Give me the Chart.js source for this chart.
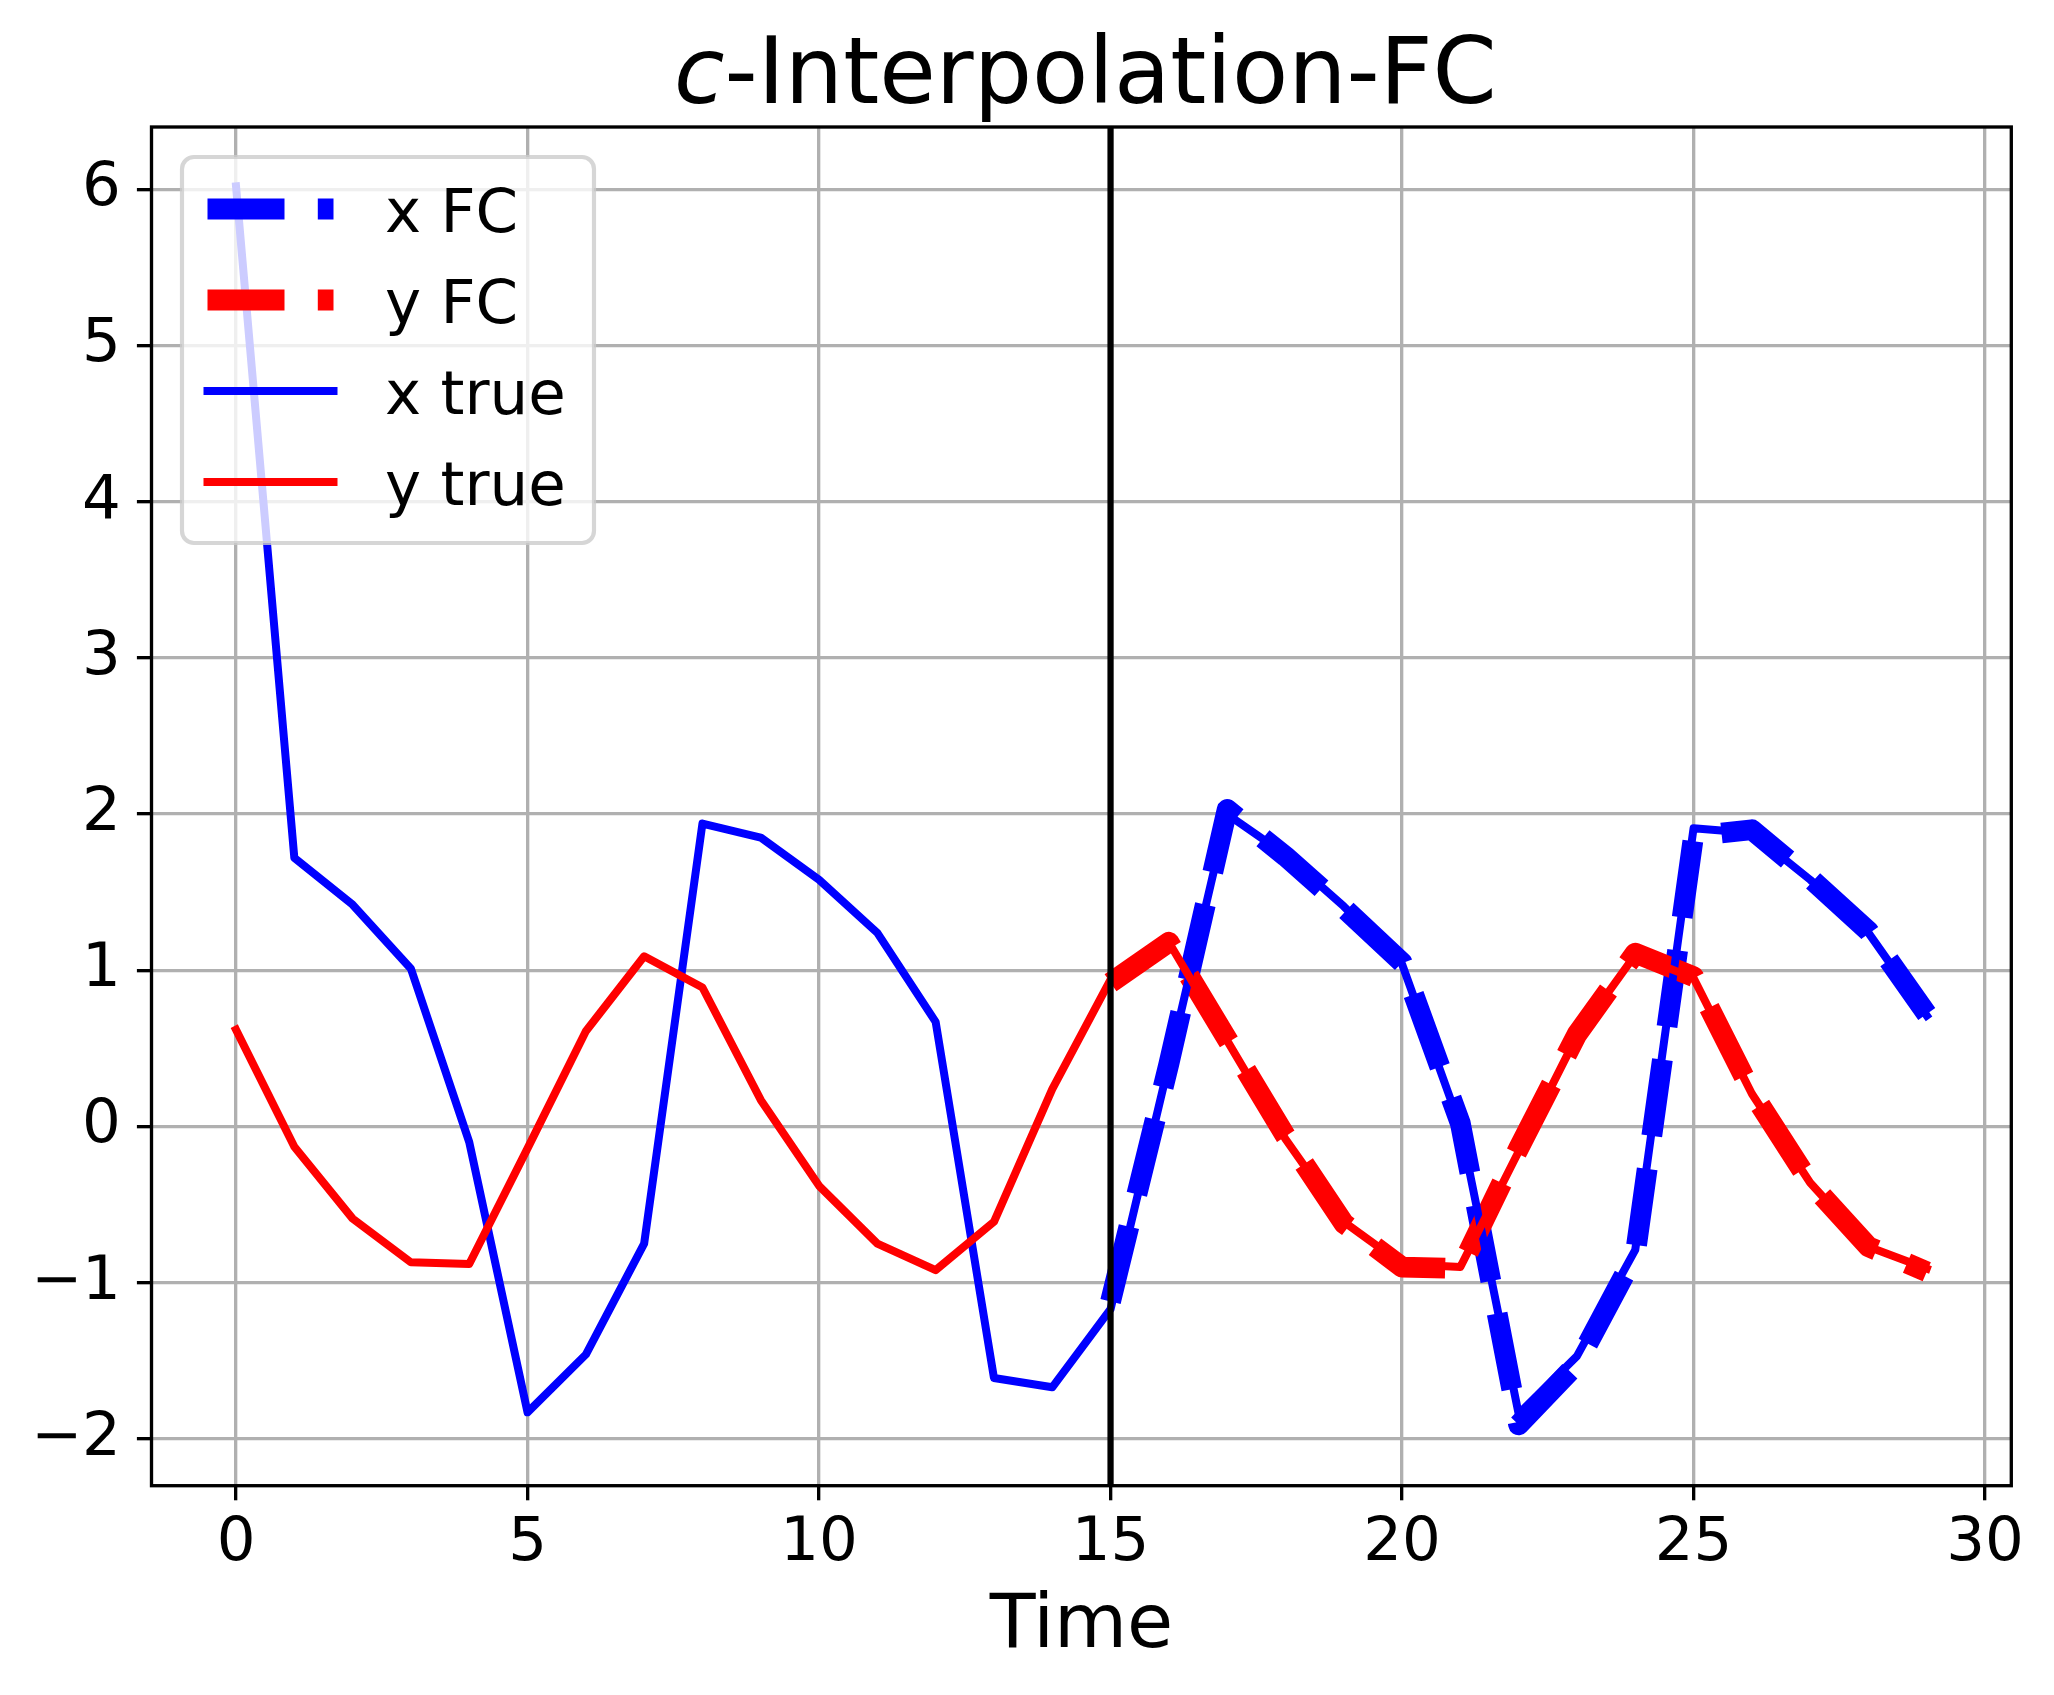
<!DOCTYPE html>
<html>
<head>
<meta charset="utf-8">
<title>c-Interpolation-FC</title>
<script src="https://cdn.jsdelivr.net/npm/chart.js@4.4.1/dist/chart.umd.min.js"></script>
<style>
  html, body { margin: 0; padding: 0; background: #fff; }
  canvas { display: block; }
</style>
</head>
<body>
<canvas id="fcChart" width="2054" height="1695"></canvas>
<script>
// values
var time = [0, 1, 2, 3, 4, 5, 6, 7, 8, 9, 10, 11, 12, 13, 14, 15, 16, 17, 18, 19, 20, 21, 22, 23, 24, 25, 26, 27, 28, 29];
var xTrue = [6.02, 1.72, 1.42, 1.01, -0.10, -1.83, -1.46, -0.75, 1.94, 1.85, 1.58, 1.24, 0.67, -1.61, -1.67, -1.17, 0.40, 2.00, 1.74, 1.41, 1.04, 0.00, -1.84, -1.47, -0.79, 1.91, 1.88, 1.58, 1.24, 0.71];
var yTrue = [0.62, -0.13, -0.59, -0.87, -0.88, -0.14, 0.61, 1.09, 0.89, 0.17, -0.38, -0.75, -0.92, -0.61, 0.24, 0.94, 1.18, 0.55, -0.08, -0.61, -0.88, -0.90, -0.16, 0.58, 1.10, 0.95, 0.21, -0.36, -0.77, -0.91];

// forecast part starts at the split
var fcTime = [15, 16, 17, 18, 19, 20, 21, 22, 23, 24, 25, 26, 27, 28, 29];
var xFC = [-1.12, 0.40, 2.03, 1.73, 1.40, 1.05, 0.02, -1.91, -1.52, -0.82, 1.86, 1.90, 1.59, 1.25, 0.72];
var yFC = [0.92, 1.18, 0.56, -0.06, -0.62, -0.90, -0.91, -0.14, 0.59, 1.11, 0.96, 0.22, -0.36, -0.77, -0.93];

var splitTime = 15;
var xTicks = [0, 5, 10, 15, 20, 25, 30];
var yTicks = [-2, -1, 0, 1, 2, 3, 4, 5, 6];
var xRange = [-1.45, 30.45];
var yRange = [-2.3, 6.4];

var FONT = 'DejaVu Sans';

function toPoints(xs, ys) {
    return xs.map(function(t, i) { return {x: t, y: ys[i]}; });
}

function minusLabel(v) {
    return String(v).replace('-', '\u2212');
}

// vertical split line, axes frame and the legend box
var decorPlugin = {
    id: 'decor',
    afterDatasetsDraw: function(chart) {
        var ctx = chart.ctx;
        var area = chart.chartArea;
        var vx = chart.scales.x.getPixelForValue(splitTime);

        ctx.save();
        ctx.strokeStyle = '#000';
        ctx.lineWidth = 6.25;
        ctx.beginPath();
        ctx.moveTo(vx, area.top);
        ctx.lineTo(vx, area.bottom);
        ctx.stroke();

        ctx.lineWidth = 3.33;
        ctx.strokeRect(area.left, area.top, area.right - area.left, area.bottom - area.top);

        // legend
        var lx = area.left + 30.5, ly = area.top + 30, lw = 412, lh = 386;
        ctx.beginPath();
        ctx.roundRect(lx, ly, lw, lh, 12);
        ctx.fillStyle = 'rgba(255,255,255,0.8)';
        ctx.fill();
        ctx.strokeStyle = 'rgba(204,204,204,0.8)';
        ctx.lineWidth = 4.17;
        ctx.stroke();

        ctx.font = '61px "' + FONT + '"';
        ctx.textAlign = 'left';
        ctx.textBaseline = 'alphabetic';
        chart.data.datasets.forEach(function(ds, i) {
            var cy = ly + 52 + i * 91;
            var dashed = ds.borderDash && ds.borderDash.length;
            ctx.strokeStyle = ds.borderColor;
            ctx.lineWidth = ds.borderWidth;
            ctx.setLineDash(dashed ? ds.borderDash : []);
            ctx.lineCap = dashed ? 'butt' : 'square';
            ctx.beginPath();
            ctx.moveTo(lx + 25.5, cy);
            ctx.lineTo(lx + 151.5, cy);
            ctx.stroke();
            ctx.setLineDash([]);
            ctx.fillStyle = '#000';
            ctx.fillText(ds.label, lx + 203, cy + 22.5);
        });
        ctx.restore();
    },
    afterDraw: function(chart) {
        // title with an italic "c"
        var ctx = chart.ctx;
        var area = chart.chartArea;
        var cx = (area.left + area.right) / 2 + 4;
        ctx.save();
        ctx.fillStyle = '#000';
        ctx.textBaseline = 'alphabetic';
        ctx.textAlign = 'left';
        ctx.font = 'italic 92px "' + FONT + '"';
        var w1 = ctx.measureText('c').width;
        ctx.font = '92px "' + FONT + '"';
        var w2 = ctx.measureText('-Interpolation-FC').width;
        var x0 = cx - (w1 + w2) / 2;
        ctx.font = 'italic 92px "' + FONT + '"';
        ctx.fillText('c', x0, 103);
        ctx.font = '92px "' + FONT + '"';
        ctx.fillText('-Interpolation-FC', x0 + w1, 103);
        ctx.restore();
    }
};

Chart.defaults.font.family = FONT;
Chart.defaults.color = '#000';

var ctxFC = document.getElementById('fcChart');
var fcChart = new Chart(ctxFC, {
    type: 'line',
    data: {
        datasets: [{
            label: 'x FC',
            data: toPoints(fcTime, xFC),
            borderColor: '#0000ff',
            borderWidth: 20.8,
            borderDash: [77, 33.3],
            borderCapStyle: 'butt',
            borderJoinStyle: 'round',
            order: 3
        }, {
            label: 'y FC',
            data: toPoints(fcTime, yFC),
            borderColor: '#ff0000',
            borderWidth: 20.8,
            borderDash: [77, 33.3],
            borderCapStyle: 'butt',
            borderJoinStyle: 'round',
            order: 2
        }, {
            label: 'x true',
            data: toPoints(time, xTrue),
            borderColor: '#0000ff',
            borderWidth: 8,
            borderCapStyle: 'square',
            borderJoinStyle: 'round',
            order: 1
        }, {
            label: 'y true',
            data: toPoints(time, yTrue),
            borderColor: '#ff0000',
            borderWidth: 8,
            borderCapStyle: 'square',
            borderJoinStyle: 'round',
            order: 0
        }]
    },
    options: {
        responsive: false,
        animation: false,
        devicePixelRatio: 1,
        layout: {
            padding: {top: 127, left: 0, right: 42.7, bottom: 0}
        },
        elements: {
            point: {radius: 0, hoverRadius: 0},
            line: {tension: 0, fill: false}
        },
        scales: {
            x: {
                type: 'linear',
                min: xRange[0],
                max: xRange[1],
                afterBuildTicks: function(scale) {
                    scale.ticks = xTicks.map(function(v) { return {value: v}; });
                },
                afterFit: function(scale) { scale.height = 209.3; },
                ticks: {
                    font: {size: 61},
                    padding: 7,
                    maxRotation: 0,
                    callback: minusLabel
                },
                grid: {
                    color: '#b0b0b0',
                    lineWidth: 3.33,
                    drawTicks: true,
                    tickLength: 14.6,
                    tickWidth: 3.33,
                    tickColor: '#000'
                },
                border: {display: false},
                title: {
                    display: true,
                    text: 'Time',
                    font: {size: 75},
                    padding: {top: 0, bottom: 22}
                }
            },
            y: {
                type: 'linear',
                min: yRange[0],
                max: yRange[1],
                afterBuildTicks: function(scale) {
                    scale.ticks = yTicks.map(function(v) { return {value: v}; });
                },
                afterFit: function(scale) { scale.width = 151.5; },
                ticks: {
                    font: {size: 61},
                    padding: 16,
                    callback: minusLabel
                },
                grid: {
                    color: '#b0b0b0',
                    lineWidth: 3.33,
                    drawTicks: true,
                    tickLength: 14.6,
                    tickWidth: 3.33,
                    tickColor: '#000'
                },
                border: {display: false}
            }
        },
        plugins: {
            legend: {display: false},
            tooltip: {enabled: false}
        }
    },
    plugins: [decorPlugin]
});
</script>
</body>
</html>
